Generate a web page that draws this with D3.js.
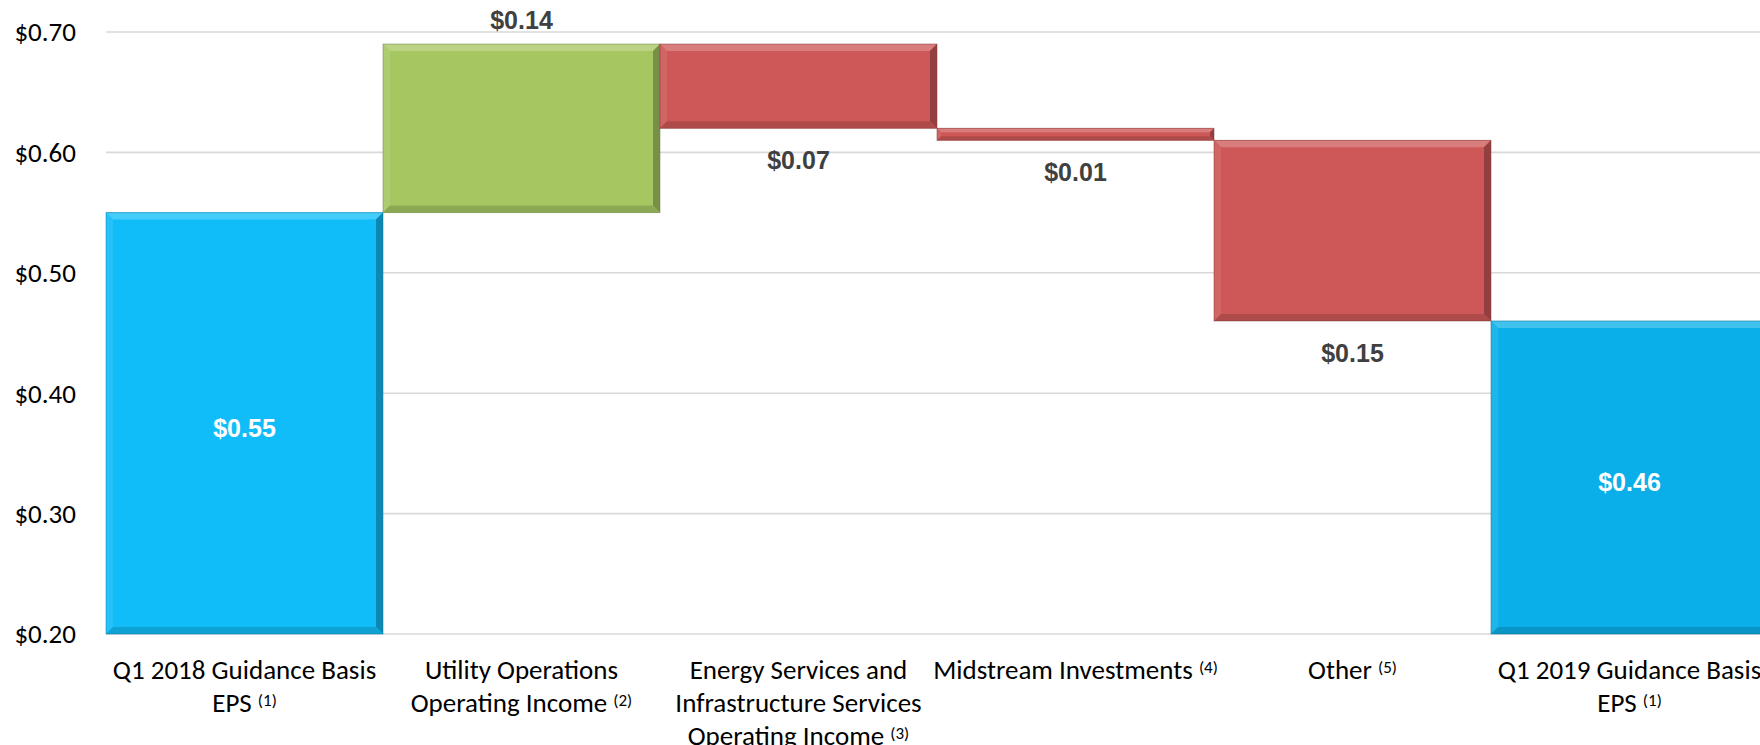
<!DOCTYPE html>
<html>
<head>
<meta charset="utf-8">
<script src="https://cdn.jsdelivr.net/npm/d3@7"></script>
<style>
  html, body { margin: 0; padding: 0; background: #fff; }
  svg { display: block; overflow: hidden; }
</style>
</head>
<body>
<div id="chart"></div>
<script>
// Category labels (lines) and footnote markers
const categories = ["start", "utility", "energy", "midstream", "other", "end"];
const labelLines = [
  ["Q1 2018 Guidance Basis", "EPS"],
  ["Utility Operations", "Operating Income"],
  ["Energy Services and", "Infrastructure Services", "Operating Income"],
  ["Midstream Investments"],
  ["Other"],
  ["Q1 2019 Guidance Basis", "EPS"]
];
const footnotes = ["(1)", "(2)", "(3)", "(4)", "(5)", "(1)"];

// Waterfall values: totals for first/last, deltas in between
const kinds = ["total", "delta", "delta", "delta", "delta", "total"];
const values = [0.55, 0.14, -0.07, -0.01, -0.15, 0.46];

// Y axis ticks
const yTicks = [0.20, 0.30, 0.40, 0.50, 0.60, 0.70];

const W = 1760, H = 745;
const margin = {top: 32, left: 106, bottom: 111};

const svg = d3.select("#chart").append("svg")
  .attr("width", W).attr("height", H);

// Build the floating segments
let running = 0;
const bars = categories.map((c, i) => {
  let lo, hi;
  if (kinds[i] === "total") {
    lo = 0; hi = values[i]; running = values[i];
  } else {
    const next = running + values[i];
    lo = Math.min(running, next); hi = Math.max(running, next);
    running = next;
  }
  return {key: c, i, kind: kinds[i], value: values[i], lo, hi};
});

const x = d3.scaleBand()
  .domain(categories)
  .range([margin.left, margin.left + 6 * 277])
  .padding(0);

const y = d3.scaleLinear()
  .domain([0.2, 0.7])
  .range([H - margin.bottom, margin.top]);

// Gridlines
svg.append("g").selectAll("line")
  .data(yTicks)
  .enter().append("line")
  .attr("x1", margin.left).attr("x2", W)
  .attr("y1", d => y(d)).attr("y2", d => y(d))
  .attr("stroke", "#d9d9d9")
  .attr("stroke-width", 1.6);

// Y axis labels
const axisFont = "Carlito, Calibri, Lato, sans-serif";
svg.append("g").selectAll("text")
  .data(yTicks)
  .enter().append("text")
  .attr("x", 76).attr("y", d => y(d))
  .attr("dy", "0.35em")
  .attr("text-anchor", "end")
  .style("font-family", axisFont)
  .style("font-size", "27px")
  .style("fill", "#000")
  .text(d => "$" + d.toFixed(2));

function colorFor(d) {
  if (d.kind === "total") return d.i === 0 ? "#11bdf9" : "#0aafe9";
  return d.value >= 0 ? "#a6c662" : "#cd5857";
}

// Bars with a subtle bevel effect
const barG = svg.append("g").selectAll("g")
  .data(bars)
  .enter().append("g");

barG.each(function(d) {
  const g = d3.select(this);
  const x0 = x(d.key), x1 = x(d.key) + x.bandwidth();
  const y0 = y(Math.max(d.hi, 0.2)), y1 = y(Math.max(d.lo, 0.2));
  const base = d3.color(colorFor(d));
  const b = Math.min(7, (y1 - y0) / 3);
  g.append("rect")
    .attr("x", x0).attr("y", y0)
    .attr("width", x1 - x0).attr("height", y1 - y0)
    .attr("fill", base.formatHex());
  const poly = (pts, fill) => g.append("polygon")
    .attr("points", pts.map(p => p.join(",")).join(" "))
    .attr("fill", fill);
  poly([[x0, y0], [x1, y0], [x1 - b, y0 + b], [x0 + b, y0 + b]], d3.interpolateRgb(base, "#fff")(0.22));
  poly([[x0, y0], [x0 + b, y0 + b], [x0 + b, y1 - b], [x0, y1]], d3.interpolateRgb(base, "#fff")(0.08));
  poly([[x1, y0], [x1, y1], [x1 - b, y1 - b], [x1 - b, y0 + b]], d3.interpolateRgb(base, "#000")(0.28));
  poly([[x0, y1], [x1, y1], [x1 - b, y1 - b], [x0 + b, y1 - b]], d3.interpolateRgb(base, "#000")(0.15));
  g.append("rect")
    .attr("x", x0).attr("y", y0)
    .attr("width", x1 - x0).attr("height", y1 - y0)
    .attr("fill", "none")
    .attr("stroke", d3.interpolateRgb(base, "#000")(0.35))
    .attr("stroke-opacity", 0.5)
    .attr("stroke-width", 1);
});

// Data labels
const labelFont = "'Liberation Sans', Arial, sans-serif";
svg.append("g").selectAll("text")
  .data(bars)
  .enter().append("text")
  .attr("x", d => x(d.key) + x.bandwidth() / 2)
  .attr("y", d => {
    if (d.kind === "total") return (y(d.hi) + y(0.2)) / 2 + 5;
    return d.value >= 0 ? y(d.hi) - 24 : y(d.lo) + 32;
  })
  .attr("dy", "0.35em")
  .attr("text-anchor", "middle")
  .style("font-family", labelFont)
  .style("font-weight", "bold")
  .style("font-size", "25px")
  .style("fill", d => d.kind === "total" ? "#fff" : "#404040")
  .text(d => "$" + Math.abs(d.value).toFixed(2));

// Category labels with superscript footnotes
const catG = svg.append("g").selectAll("text")
  .data(bars)
  .enter().append("text")
  .attr("text-anchor", "middle")
  .style("font-family", axisFont)
  .style("font-size", "27px")
  .style("fill", "#000");

catG.each(function(d) {
  const t = d3.select(this);
  const cx = x(d.key) + x.bandwidth() / 2;
  const lines = labelLines[d.i];
  lines.forEach((line, li) => {
    const ly = 670 + li * 33;
    const last = li === lines.length - 1;
    t.append("tspan")
      .attr("x", cx).attr("y", ly).attr("dy", "0.35em")
      .text(line + (last ? " " : ""));
    if (last) {
      t.append("tspan")
        .attr("dy", "-0.4em")
        .style("font-size", "17px")
        .text(footnotes[d.i]);
    }
  });
});
</script>
</body>
</html>
